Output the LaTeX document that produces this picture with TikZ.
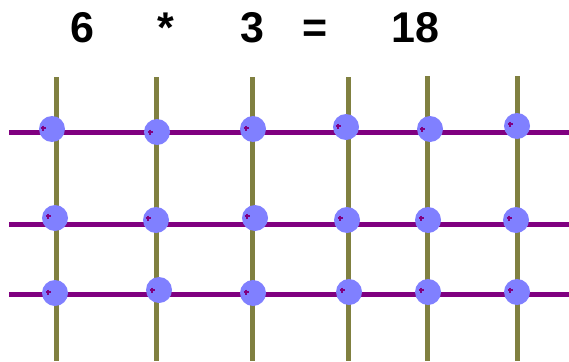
\documentclass[tikz,border=0pt]{standalone}
\usepackage{fontspec}
\setmainfont{Liberation Sans}
\begin{document}
\begin{tikzpicture}[x=1pt,y=-1pt,
  vline/.style={draw=olivecol,line width=5pt},
  hline/.style={draw=purplecol,line width=5pt},
  blob/.style={circle,fill=blobcol,inner sep=0pt,minimum size=26pt},
  tick/.style={draw=purplecol,line width=1.2pt},
  eqtext/.style={anchor=base,font=\fontsize{43}{43}\selectfont\bfseries,inner sep=0pt}]
\definecolor{olivecol}{HTML}{808040}
\definecolor{purplecol}{HTML}{800080}
\definecolor{blobcol}{HTML}{8080FF}
\useasboundingbox[fill=white] (0,0) rectangle (569,361);
% equation
\node[eqtext] (n6) at (82,43) {6};
\node[eqtext] (ast) at (166,43) {*};
\node[eqtext] (n3) at (252,43) {3};
\node[eqtext] (eq) at (315,43) {=};
\node[eqtext] (n18) at (415,43) {18};
% vertical lines
\foreach \x/\t in {56/77,156/77,252/77,348/77,427/76,517/76}
  \draw[vline] (\x,\t) -- (\x,361);
% horizontal lines
\foreach \y in {132,224,294}
  \draw[hline] (9,\y) -- (569,\y);
% blobs: centre x, centre y, tick x, tick y
\foreach \i/\cx/\cy/\px/\py in {
  a1/52/129/43/128, a2/157/132/150/132, a3/253/129/246/128,
  a4/346/127/338/126, a5/430/129/422/129, a6/517/126/510/124,
  b1/55/218/48/216, b2/156/220/148/218, b3/255/218/247/216,
  b4/347/220/340/218, b5/428/220/421/218, b6/516/220/509/218,
  c1/55/293/48/292, c2/159/290/152/290, c3/253/293/246/292,
  c4/349/292/342/290, c5/428/292/421/290, c6/517/292/510/290}
{
  \node[blob] (\i) at (\cx,\cy) {};
  \draw[tick] (\px-2.5,\py) -- (\px+2.5,\py) (\px,\py-2.5) -- (\px,\py+2.5);
}
\end{tikzpicture}
\end{document}
